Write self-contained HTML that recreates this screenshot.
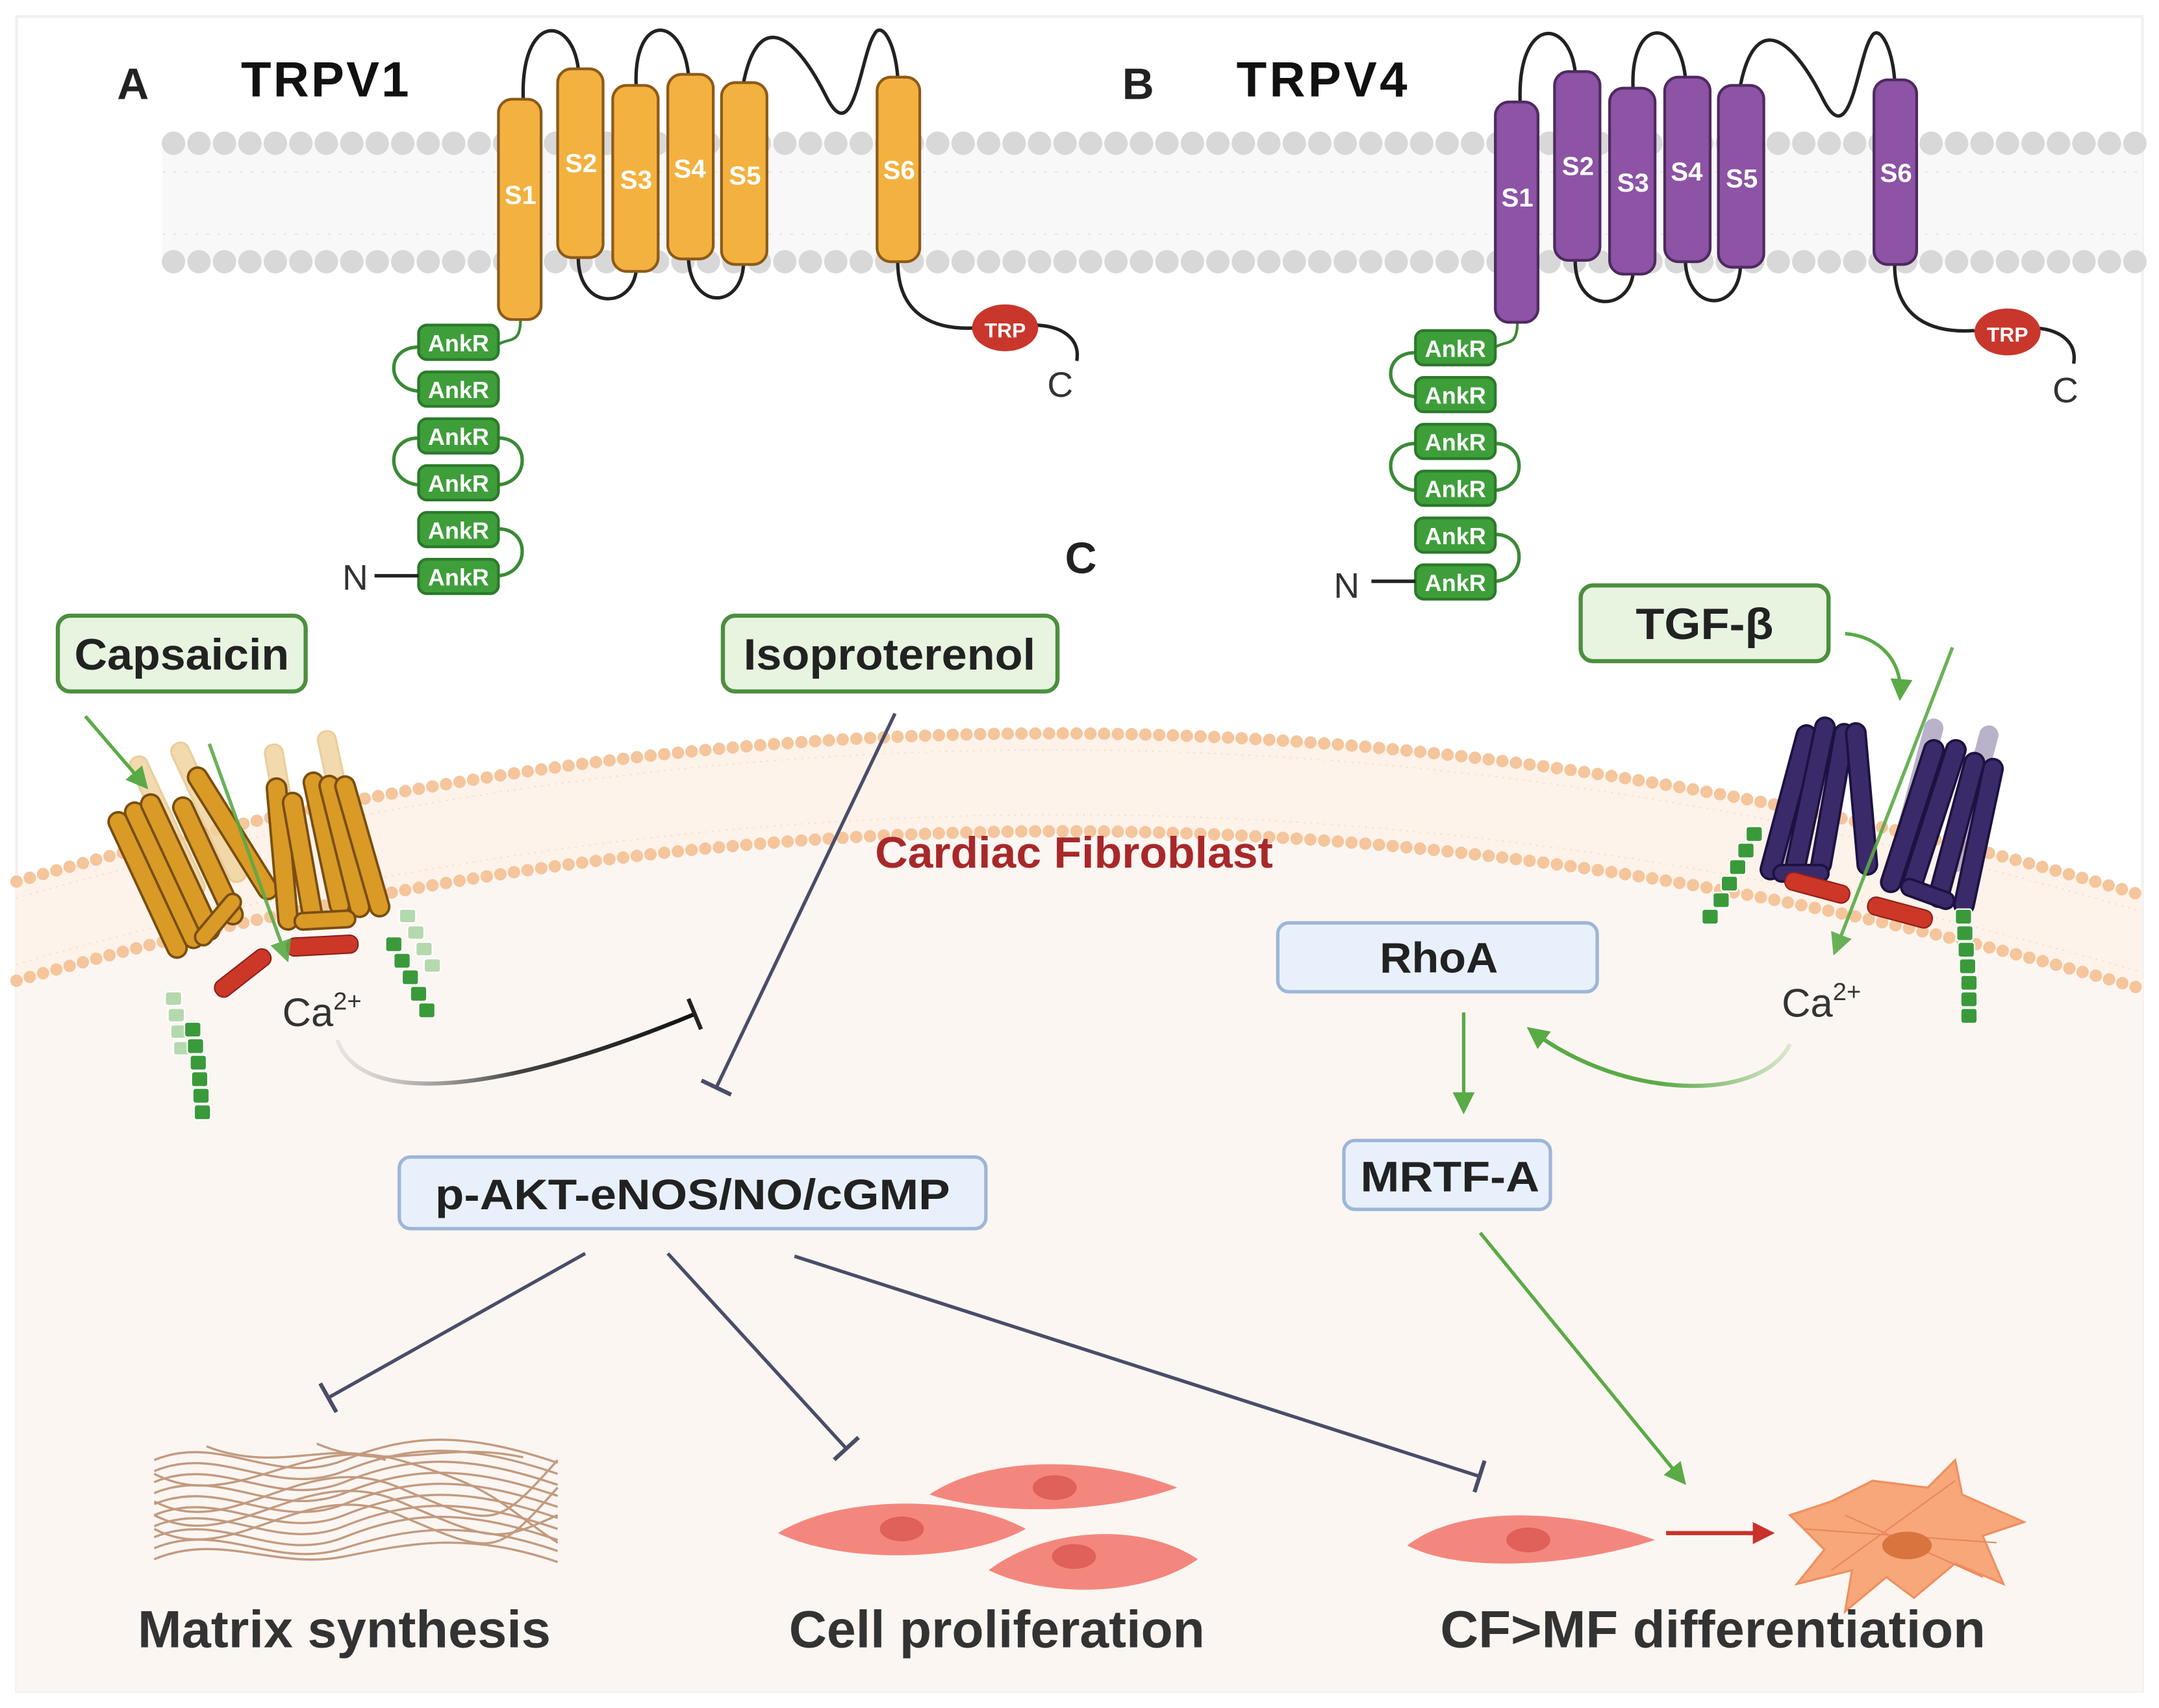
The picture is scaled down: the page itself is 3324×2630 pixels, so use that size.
<!DOCTYPE html>
<html><head><meta charset="utf-8"><style>
html,body{margin:0;padding:0;background:#fff}
svg{display:block}
text{font-family:"Liberation Sans",Arial,sans-serif}
</style></head><body>
<svg width="3324" height="2630" viewBox="0 0 1568 1240" preserveAspectRatio="none" xmlns="http://www.w3.org/2000/svg">
<defs>
<marker id="ga2" markerWidth="16" markerHeight="16" refX="12" refY="8" orient="auto" markerUnits="userSpaceOnUse"><path d="M0,0 L16,8 L0,16 Z" fill="#5aaa46"/></marker>
<marker id="ra" markerWidth="16" markerHeight="16" refX="12" refY="8" orient="auto" markerUnits="userSpaceOnUse"><path d="M0,0 L16,8 L0,16 Z" fill="#c8322a"/></marker>
<marker id="tb" markerWidth="4" markerHeight="24" refX="2" refY="12" orient="auto" markerUnits="userSpaceOnUse"><rect x="0" y="0" width="3" height="24" fill="#4a4d68"/></marker>
<marker id="tbk" markerWidth="4" markerHeight="24" refX="2" refY="12" orient="auto" markerUnits="userSpaceOnUse"><rect x="0" y="0" width="3" height="24" fill="#222"/></marker>
<linearGradient id="cag" x1="0" x2="1"><stop offset="0" stop-color="#bbb" stop-opacity="0.3"/><stop offset="0.5" stop-color="#444"/><stop offset="1" stop-color="#111"/></linearGradient>
<linearGradient id="gg" x1="1" x2="0"><stop offset="0" stop-color="#5aaa46" stop-opacity="0.2"/><stop offset="0.5" stop-color="#5aaa46"/><stop offset="1" stop-color="#5aaa46"/></linearGradient>
</defs>
<rect x="0" y="0" width="1568" height="1240" fill="#fff"/>
<rect x="12" y="12" width="1544" height="1216" fill="#fff" stroke="#f0f0f0" stroke-width="2"/>

<!-- top membrane -->
<rect x="118" y="104" width="1438" height="86" fill="#f8f8f8"/>
<g stroke="#e6e6e6" stroke-width="1">
<path d="M118,125 H1556 M118,170 H1556" stroke-dasharray="2 6"/>
</g>
<path d="M126,104 H1556" stroke="#d8d8d8" stroke-width="17" stroke-linecap="round" stroke-dasharray="0 18.5"/>
<path d="M126,190 H1556" stroke="#d8d8d8" stroke-width="17" stroke-linecap="round" stroke-dasharray="0 18.5"/>

<!-- TRPV1 -->
<text x="85" y="72" font-size="32" font-weight="bold" fill="#222">A</text>
<text x="175" y="70" font-size="36" font-weight="bold" fill="#111" textLength="122">TRPV1</text>
<g fill="none" stroke="#222" stroke-width="2.5">
<path d="M380,72 C378,10 415,10 420,50"/>
<path d="M462,62 C460,10 495,10 500,54"/>
<path d="M540,60 C550,10 575,20 600,70 C620,110 625,40 635,25 C640,15 650,30 652,56"/>
<path d="M420,187 C420,225 458,225 462,197"/>
<path d="M500,188 C502,225 538,225 540,192"/>
<path d="M652,190 C652,230 680,240 710,238"/>
<path d="M750,236 C770,236 785,245 782,262"/>
</g>
<path d="M378,232 C378,250 370,245 362,250" fill="none" stroke="#3a8a36" stroke-width="2"/>
<g fill="#f3b13f" stroke="#8d5a1a" stroke-width="2">
<rect x="362" y="72" width="31" height="160" rx="10"/>
<rect x="405" y="50" width="33" height="137" rx="10"/>
<rect x="445" y="62" width="33" height="135" rx="10"/>
<rect x="485" y="54" width="33" height="134" rx="10"/>
<rect x="524" y="60" width="33" height="132" rx="10"/>
<rect x="637" y="56" width="31" height="134" rx="10"/>
</g>
<g fill="#fff" font-size="19" font-weight="bold" text-anchor="middle">
<text x="378" y="148">S1</text><text x="422" y="125">S2</text><text x="462" y="137">S3</text><text x="501" y="129">S4</text><text x="541" y="134">S5</text><text x="653" y="130">S6</text>
</g>
<ellipse cx="730" cy="238" rx="24" ry="17" fill="#c9362b"/>
<text x="730" y="245" font-size="15" font-weight="bold" fill="#fff" text-anchor="middle">TRP</text>
<text x="770" y="288" font-size="26" fill="#333" text-anchor="middle">C</text>
<g fill="none" stroke="#3a8a36" stroke-width="2.5">
<path d="M304,252 C280,252 280,282 304,284"/>
<path d="M304,318 C280,318 280,350 304,352"/>
<path d="M362,318 C385,318 385,350 362,352"/>
<path d="M362,384 C385,384 385,416 362,418"/>
</g>
<g fill="#3e9e3a" stroke="#2b7a2a" stroke-width="2">
<rect x="304" y="236" width="58" height="25" rx="6"/><rect x="304" y="270" width="58" height="25" rx="6"/>
<rect x="304" y="304" width="58" height="25" rx="6"/><rect x="304" y="338" width="58" height="25" rx="6"/>
<rect x="304" y="372" width="58" height="25" rx="6"/><rect x="304" y="406" width="58" height="25" rx="6"/>
</g>
<g fill="#fff" font-size="17" font-weight="bold" text-anchor="middle">
<text x="333" y="255">AnkR</text><text x="333" y="289">AnkR</text><text x="333" y="323">AnkR</text><text x="333" y="357">AnkR</text><text x="333" y="391">AnkR</text><text x="333" y="425">AnkR</text>
</g>
<path d="M272,418 H304" stroke="#222" stroke-width="2.5"/>
<text x="258" y="428" font-size="26" fill="#333" text-anchor="middle">N</text>

<!-- TRPV4 -->
<text x="815" y="72" font-size="32" font-weight="bold" fill="#222">B</text>
<text x="898" y="70" font-size="36" font-weight="bold" fill="#111" textLength="124">TRPV4</text>
<g transform="translate(724,2)">
<g fill="none" stroke="#222" stroke-width="2.5">
<path d="M380,72 C378,10 415,10 420,50"/>
<path d="M462,62 C460,10 495,10 500,54"/>
<path d="M540,60 C550,10 575,20 600,70 C620,110 625,40 635,25 C640,15 650,30 652,56"/>
<path d="M420,187 C420,225 458,225 462,197"/>
<path d="M500,188 C502,225 538,225 540,192"/>
<path d="M652,190 C652,230 680,240 710,238"/>
<path d="M750,236 C770,236 785,245 782,262"/>
</g>
<path d="M378,232 C378,250 370,245 362,250" fill="none" stroke="#3a8a36" stroke-width="2"/>
<g fill="#8d53a5" stroke="#4f2a60" stroke-width="2">
<rect x="362" y="72" width="31" height="160" rx="10"/>
<rect x="405" y="50" width="33" height="137" rx="10"/>
<rect x="445" y="62" width="33" height="135" rx="10"/>
<rect x="485" y="54" width="33" height="134" rx="10"/>
<rect x="524" y="60" width="33" height="132" rx="10"/>
<rect x="637" y="56" width="31" height="134" rx="10"/>
</g>
<g fill="#fff" font-size="19" font-weight="bold" text-anchor="middle">
<text x="378" y="148">S1</text><text x="422" y="125">S2</text><text x="462" y="137">S3</text><text x="501" y="129">S4</text><text x="541" y="134">S5</text><text x="653" y="130">S6</text>
</g>
<ellipse cx="734" cy="239" rx="24" ry="17" fill="#c9362b"/>
<text x="734" y="246" font-size="15" font-weight="bold" fill="#fff" text-anchor="middle">TRP</text>
<text x="776" y="290" font-size="26" fill="#333" text-anchor="middle">C</text>
</g>
<g transform="translate(724,4)">
<g fill="none" stroke="#3a8a36" stroke-width="2.5">
<path d="M304,252 C280,252 280,282 304,284"/>
<path d="M304,318 C280,318 280,350 304,352"/>
<path d="M362,318 C385,318 385,350 362,352"/>
<path d="M362,384 C385,384 385,416 362,418"/>
</g>
<g fill="#3e9e3a" stroke="#2b7a2a" stroke-width="2">
<rect x="304" y="236" width="58" height="25" rx="6"/><rect x="304" y="270" width="58" height="25" rx="6"/>
<rect x="304" y="304" width="58" height="25" rx="6"/><rect x="304" y="338" width="58" height="25" rx="6"/>
<rect x="304" y="372" width="58" height="25" rx="6"/><rect x="304" y="406" width="58" height="25" rx="6"/>
</g>
<g fill="#fff" font-size="17" font-weight="bold" text-anchor="middle">
<text x="333" y="255">AnkR</text><text x="333" y="289">AnkR</text><text x="333" y="323">AnkR</text><text x="333" y="357">AnkR</text><text x="333" y="391">AnkR</text><text x="333" y="425">AnkR</text>
</g>
<path d="M272,418 H304" stroke="#222" stroke-width="2.5"/>
<text x="254" y="430" font-size="26" fill="#333" text-anchor="middle">N</text>
</g>

<text x="785" y="416" font-size="32" font-weight="bold" fill="#222" text-anchor="middle">C</text>

<!-- cell -->
<path d="M12,712 Q780,492 1556,718 L1556,1228 L12,1228 Z" fill="#fcf6f2"/>
<path d="M12,640 Q780,420 1556,650 L1556,718 Q780,492 12,712 Z" fill="#fdf3ea"/>
<path d="M12,652 Q780,432 1556,662" fill="none" stroke="#f6dcc3" stroke-width="1" stroke-dasharray="1 4"/>
<path d="M12,700 Q780,480 1556,706" fill="none" stroke="#f6dcc3" stroke-width="1" stroke-dasharray="1 4"/>
<path d="M12,640 Q780,420 1556,650" fill="none" stroke="#f5c59c" stroke-width="9" stroke-linecap="round" stroke-dasharray="0 10"/>
<path d="M12,712 Q780,492 1556,718" fill="none" stroke="#f5c59c" stroke-width="9" stroke-linecap="round" stroke-dasharray="0 10"/>

<!-- left channel -->
<g>
<g fill="#f0d29a" stroke="#e6c283" stroke-width="1.5" opacity="0.8">
<rect x="115" y="545" width="13" height="110" rx="6" transform="rotate(-25 121 600)"/>
<rect x="145" y="535" width="13" height="110" rx="6" transform="rotate(-25 151 590)"/>
<rect x="200" y="540" width="13" height="100" rx="6" transform="rotate(-10 206 590)"/>
<rect x="240" y="530" width="13" height="100" rx="6" transform="rotate(-12 246 580)"/>
</g>
<g fill="#d99a26" stroke="#7a4e10" stroke-width="1.8">
<rect x="100" y="585" width="14" height="115" rx="7" transform="rotate(-25 107 642)"/>
<rect x="112" y="578" width="14" height="115" rx="7" transform="rotate(-25 119 635)"/>
<rect x="124" y="572" width="14" height="115" rx="7" transform="rotate(-25 131 630)"/>
<rect x="144" y="575" width="14" height="100" rx="7" transform="rotate(-25 151 625)"/>
<rect x="162" y="550" width="14" height="110" rx="7" transform="rotate(-32 169 605)"/>
<rect x="152" y="645" width="12" height="45" rx="6" transform="rotate(40 158 668)"/>
<rect x="198" y="565" width="14" height="110" rx="7" transform="rotate(-5 205 620)"/>
<rect x="213" y="575" width="14" height="100" rx="7" transform="rotate(-10 220 625)"/>
<rect x="230" y="560" width="14" height="105" rx="7" transform="rotate(-12 237 612)"/>
<rect x="243" y="562" width="14" height="105" rx="7" transform="rotate(-14 250 614)"/>
<rect x="256" y="562" width="14" height="105" rx="7" transform="rotate(-16 263 614)"/>
<rect x="214" y="662" width="44" height="12" rx="6" transform="rotate(-3 236 668)"/>
</g>
<g fill="#cc3728" stroke="#8e2018" stroke-width="1">
<rect x="152" y="700" width="48" height="13" rx="6" transform="rotate(-38 176 706)"/>
<rect x="208" y="680" width="52" height="13" rx="6" transform="rotate(-3 234 686)"/>
</g>
<g fill="#b5d9ae" stroke="#fff" stroke-width="1">
<rect x="120" y="720" width="12" height="10" rx="2"/><rect x="122" y="732" width="12" height="10" rx="2"/><rect x="124" y="744" width="12" height="10" rx="2"/><rect x="126" y="756" width="12" height="10" rx="2"/>
<rect x="290" y="660" width="12" height="10" rx="2"/><rect x="296" y="672" width="12" height="10" rx="2"/><rect x="302" y="684" width="12" height="10" rx="2"/><rect x="308" y="696" width="12" height="10" rx="2"/>
</g>
<g fill="#3a9a3a" stroke="#fff" stroke-width="1">
<rect x="134" y="742" width="12" height="11" rx="2"/><rect x="136" y="754" width="12" height="11" rx="2"/><rect x="138" y="766" width="12" height="11" rx="2"/><rect x="139" y="778" width="12" height="11" rx="2"/><rect x="140" y="790" width="12" height="11" rx="2"/><rect x="141" y="802" width="12" height="11" rx="2"/>
<rect x="280" y="680" width="12" height="11" rx="2"/><rect x="286" y="692" width="12" height="11" rx="2"/><rect x="292" y="704" width="12" height="11" rx="2"/><rect x="298" y="716" width="12" height="11" rx="2"/><rect x="304" y="728" width="12" height="11" rx="2"/>
</g>
</g>
<path d="M152,540 L208,695" stroke="#5aaa46" stroke-width="2.5" marker-end="url(#ga2)" opacity="0.9"/>
<path d="M62,520 L105,570" stroke="#5aaa46" stroke-width="2.5" marker-end="url(#ga2)"/>

<!-- right channel -->
<g>
<g fill="#8c80a8" opacity="0.6">
<rect x="1305" y="520" width="14" height="110" rx="7" transform="rotate(15 1312 575)"/>
<rect x="1385" y="520" width="14" height="110" rx="7" transform="rotate(15 1392 575)"/>
<rect x="1425" y="525" width="14" height="110" rx="7" transform="rotate(15 1432 580)"/>
</g>
<g fill="#3b2a6a" stroke="#1d1240" stroke-width="1.8">
<rect x="1292" y="525" width="14" height="115" rx="7" transform="rotate(15 1299 582)"/>
<rect x="1308" y="520" width="14" height="115" rx="7" transform="rotate(12 1315 577)"/>
<rect x="1324" y="525" width="14" height="110" rx="7" transform="rotate(10 1331 580)"/>
<rect x="1345" y="525" width="14" height="110" rx="7" transform="rotate(-5 1352 580)"/>
<rect x="1382" y="535" width="14" height="115" rx="7" transform="rotate(18 1389 592)"/>
<rect x="1398" y="535" width="14" height="115" rx="7" transform="rotate(18 1405 592)"/>
<rect x="1414" y="545" width="14" height="115" rx="7" transform="rotate(15 1421 602)"/>
<rect x="1430" y="550" width="14" height="115" rx="7" transform="rotate(12 1437 607)"/>
<rect x="1288" y="628" width="40" height="12" rx="6"/>
<rect x="1380" y="643" width="40" height="12" rx="6" transform="rotate(20 1400 649)"/>
</g>
<g fill="#cc3728" stroke="#8e2018" stroke-width="1">
<rect x="1296" y="638" width="48" height="13" rx="6" transform="rotate(15 1320 644)"/>
<rect x="1356" y="656" width="48" height="13" rx="6" transform="rotate(15 1380 662)"/>
</g>
<g fill="#3a9a3a" stroke="#fff" stroke-width="1">
<rect x="1268" y="600" width="12" height="11" rx="2"/><rect x="1262" y="612" width="12" height="11" rx="2"/><rect x="1256" y="624" width="12" height="11" rx="2"/><rect x="1250" y="636" width="12" height="11" rx="2"/><rect x="1244" y="648" width="12" height="11" rx="2"/><rect x="1236" y="660" width="12" height="11" rx="2"/>
<rect x="1420" y="660" width="12" height="11" rx="2"/><rect x="1421" y="672" width="12" height="11" rx="2"/><rect x="1422" y="684" width="12" height="11" rx="2"/><rect x="1423" y="696" width="12" height="11" rx="2"/><rect x="1424" y="708" width="12" height="11" rx="2"/><rect x="1424" y="720" width="12" height="11" rx="2"/><rect x="1424" y="732" width="12" height="11" rx="2"/>
</g>
</g>
<path d="M1418,470 L1333,690" stroke="#5aaa46" stroke-width="2.5" marker-end="url(#ga2)" opacity="0.9"/>
<path d="M1340,460 C1365,462 1382,480 1380,505" fill="none" stroke="#5aaa46" stroke-width="2.5" marker-end="url(#ga2)"/>

<!-- boxes -->
<g stroke="#4c8f3e" stroke-width="3" fill="#e6f4e0">
<rect x="42" y="447" width="180" height="55" rx="9"/>
<rect x="525" y="447" width="243" height="55" rx="9"/>
<rect x="1148" y="425" width="180" height="55" rx="9"/>
</g>
<g font-size="32" font-weight="bold" fill="#222" text-anchor="middle">
<text x="132" y="486" textLength="156" lengthAdjust="spacingAndGlyphs">Capsaicin</text>
<text x="646" y="486" textLength="212" lengthAdjust="spacingAndGlyphs">Isoproterenol</text>
<text x="1238" y="464" textLength="100" lengthAdjust="spacingAndGlyphs">TGF-β</text>
</g>
<g stroke="#9db6d8" stroke-width="2.5" fill="#e8f1fb">
<rect x="928" y="670" width="232" height="50" rx="8"/>
<rect x="976" y="828" width="150" height="50" rx="8"/>
<rect x="290" y="840" width="426" height="52" rx="8"/>
</g>
<g font-size="31" font-weight="bold" fill="#222" text-anchor="middle">
<text x="1045" y="706" textLength="86" lengthAdjust="spacingAndGlyphs">RhoA</text>
<text x="1053" y="865" textLength="130" lengthAdjust="spacingAndGlyphs">MRTF-A</text>
<text x="503" y="878" textLength="374" lengthAdjust="spacingAndGlyphs">p-AKT-eNOS/NO/cGMP</text>
</g>
<text x="780" y="630" font-size="32" font-weight="bold" fill="#a8282a" text-anchor="middle" textLength="289" lengthAdjust="spacingAndGlyphs">Cardiac Fibroblast</text>

<!-- Ca -->
<text x="205" y="745" font-size="29" fill="#333">Ca<tspan font-size="18" dy="-12">2+</tspan></text>
<text x="1294" y="738" font-size="29" fill="#333">Ca<tspan font-size="18" dy="-12">2+</tspan></text>
<path d="M245,755 C260,800 350,800 505,736" fill="none" stroke="url(#cag)" stroke-width="3" marker-end="url(#tbk)"/>
<path d="M1300,758 C1280,800 1180,800 1112,748" fill="none" stroke="url(#gg)" stroke-width="3" marker-end="url(#ga2)"/>

<!-- inhibition lines -->
<g stroke="#4a4d68" stroke-width="2.5" fill="none">
<path d="M650,518 L520,790" marker-end="url(#tb)"/>
<path d="M425,910 L238,1015" marker-end="url(#tb)"/>
<path d="M485,910 L615,1052" marker-end="url(#tb)"/>
<path d="M577,912 L1075,1072" marker-end="url(#tb)"/>
</g>
<path d="M1063,735 L1063,805" stroke="#5aaa46" stroke-width="2.5" marker-end="url(#ga2)"/>
<path d="M1075,895 L1222,1075" stroke="#5aaa46" stroke-width="2.5" marker-end="url(#ga2)"/>
<path d="M1210,1113 L1285,1113" stroke="#c8322a" stroke-width="3" marker-end="url(#ra)"/>

<!-- matrix -->
<g fill="none" stroke="#b88a6c" stroke-width="1.6" opacity="0.85">
<path d="M112,1060 C160,1040 200,1080 250,1060 S340,1040 405,1062"/>
<path d="M112,1068 C160,1048 200,1088 250,1068 S340,1048 405,1070"/>
<path d="M112,1076 C160,1056 200,1096 250,1076 S340,1056 405,1078"/>
<path d="M112,1084 C160,1064 200,1104 250,1084 S340,1064 405,1086"/>
<path d="M112,1092 C160,1072 200,1112 250,1092 S340,1072 405,1094"/>
<path d="M112,1100 C160,1080 200,1120 250,1100 S340,1080 405,1102"/>
<path d="M112,1108 C160,1088 200,1128 250,1108 S340,1088 405,1110"/>
<path d="M112,1116 C160,1096 200,1136 250,1116 S340,1096 405,1118"/>
<path d="M112,1124 C160,1104 200,1140 250,1124 S340,1104 405,1126"/>
<path d="M112,1132 C160,1112 200,1140 250,1130 S340,1112 405,1134"/>
<path d="M112,1090 C170,1120 220,1050 290,1080 S360,1110 405,1060"/>
<path d="M112,1110 C170,1140 220,1070 290,1100 S360,1130 405,1080"/>
<path d="M112,1070 C170,1100 220,1040 290,1060 S360,1090 405,1120"/>
<path d="M112,1100 C170,1130 220,1060 290,1090 S360,1120 405,1100"/>
<path d="M150,1050 C200,1070 240,1045 280,1060"/>
<path d="M230,1048 C280,1070 320,1045 380,1058"/>
</g>

<!-- cells -->
<g fill="#f4877d">
<path d="M675,1085 C720,1055 800,1058 855,1080 C800,1100 720,1100 675,1085 Z"/>
<path d="M565,1113 C610,1085 700,1085 745,1110 C700,1135 610,1135 565,1113 Z"/>
<path d="M718,1140 C760,1108 830,1105 870,1132 C830,1160 760,1160 718,1140 Z"/>
<path d="M1022,1122 C1060,1092 1140,1095 1202,1118 C1140,1138 1060,1142 1022,1122 Z"/>
</g>
<g fill="#e0605a">
<ellipse cx="766" cy="1080" rx="16" ry="9"/><ellipse cx="655" cy="1110" rx="16" ry="9"/><ellipse cx="780" cy="1130" rx="16" ry="9"/><ellipse cx="1110" cy="1118" rx="16" ry="9"/>
</g>
<path d="M1300,1100 L1330,1090 L1360,1075 L1400,1080 L1420,1060 L1425,1085 L1470,1105 L1440,1115 L1455,1150 L1420,1135 L1390,1160 L1370,1145 L1340,1170 L1345,1140 L1305,1150 L1325,1125 Z" fill="#f7a77a" stroke="#ef8f60" stroke-width="1.5"/>
<g stroke="#e8875a" stroke-width="1" fill="none"><path d="M1310,1110 L1450,1120 M1330,1140 L1420,1075 M1340,1100 L1440,1145"/></g>
<ellipse cx="1385" cy="1122" rx="18" ry="10" fill="#d9743e"/>

<g font-size="38" font-weight="bold" fill="#333" text-anchor="middle">
<text x="250" y="1196" textLength="300" lengthAdjust="spacingAndGlyphs">Matrix synthesis</text>
<text x="724" y="1196" textLength="302" lengthAdjust="spacingAndGlyphs">Cell proliferation</text>
<text x="1244" y="1196" textLength="396" lengthAdjust="spacingAndGlyphs">CF&gt;MF differentiation</text>
</g>
</svg>
</body></html>
